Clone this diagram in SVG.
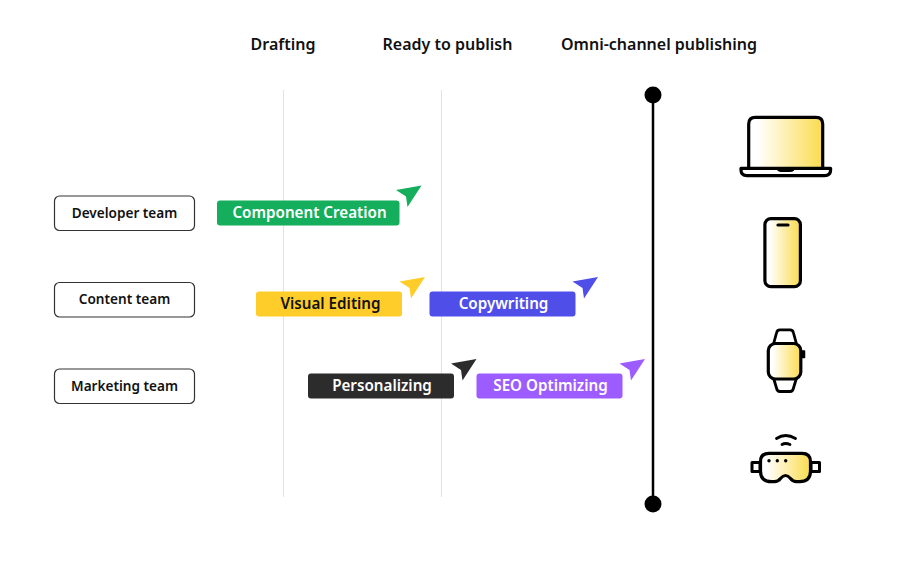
<svg xmlns="http://www.w3.org/2000/svg" width="918" height="568" viewBox="0 0 918 568">
<style>
text{font-family:"Noto Sans","Open Sans",sans-serif;font-weight:600;text-anchor:middle}
.h{font-size:16px;fill:#111}
.t{font-size:13.600px;fill:#111}
.b{font-size:15.200px;fill:#fff}
.team{fill:#fff;stroke:#333;stroke-width:1.2}
.grid{stroke:#e2e2e2;stroke-width:1}
.ic{stroke:#000;stroke-width:3.200;stroke-linejoin:round;stroke-linecap:round}
</style>
<defs>
<linearGradient id="g"><stop offset="0.12" stop-color="#fff"/><stop offset="1" stop-color="#fbdb4d"/></linearGradient>
<path id="cur" d="M0 0L-25.500 4.500L-15.500 11L-14 21.500Z"/>
</defs>
<rect width="918" height="568" fill="#fff"/>
<g id="headers">
<text class="h" x="283" y="50">Drafting</text>
<text class="h" x="447.500" y="50">Ready to publish</text>
<text class="h" x="659" y="50">Omni-channel publishing</text>
</g>
<g id="connectors">
<line class="grid" x1="283.500" y1="90" x2="283.500" y2="497"/>
<line class="grid" x1="441.500" y1="90" x2="441.500" y2="497"/>
<line x1="653" y1="95" x2="653" y2="504" stroke="#000" stroke-width="2.500"/>
<circle cx="653" cy="95" r="8.500"/>
<circle cx="653" cy="504" r="8.500"/>
</g>
<g id="team-developer"><rect class="team" x="54.500" y="196" width="140" height="34.500" rx="5"/><text class="t" x="124.500" y="218">Developer team</text></g>
<g id="team-content"><rect class="team" x="54.500" y="282.500" width="140" height="34.500" rx="5"/><text class="t" x="124.500" y="304">Content team</text></g>
<g id="team-marketing"><rect class="team" x="54.500" y="369" width="140" height="34.500" rx="5"/><text class="t" x="124.500" y="391">Marketing team</text></g>
<g id="component-creation"><rect x="217" y="200.500" width="182.500" height="25" rx="3" fill="#14ae5c"/><text class="b" x="309.500" y="218">Component Creation</text><use href="#cur" x="421.500" y="185.500" fill="#14ae5c"/></g>
<g id="visual-editing"><rect x="256" y="291.500" width="146" height="25" rx="3" fill="#ffcd29"/><text class="b" style="fill:#111" x="330.500" y="309">Visual Editing</text><use href="#cur" x="425" y="277" fill="#ffcd29"/></g>
<g id="copywriting"><rect x="429.500" y="291.500" width="146" height="25" rx="3" fill="#4f4ee8"/><text class="b" x="503.500" y="309">Copywriting</text><use href="#cur" x="598" y="277" fill="#4f4ee8"/></g>
<g id="personalizing"><rect x="308" y="373.500" width="146" height="25" rx="3" fill="#2c2c2c"/><text class="b" x="382" y="391">Personalizing</text><use href="#cur" x="476.500" y="359" fill="#2c2c2c"/></g>
<g id="seo-optimizing"><rect x="476.500" y="373.500" width="146" height="25" rx="3" fill="#9d5cff"/><text class="b" x="550.500" y="391">SEO Optimizing</text><use href="#cur" x="645" y="359" fill="#9d5cff"/></g>
<g id="laptop" class="ic">
<path d="M748.700 169V124Q748.700 117.300 755.400 117.300H816Q822.700 117.300 822.700 124V169Z" fill="url(#g)"/>
<path d="M741 168.400H830.600V170Q830.600 175.700 824.600 175.700H747Q741 175.700 741 170Z" fill="#fff"/>
<path d="M776.500 169Q778 171.500 781 171.500H790.500Q793.500 171.500 795 169Z" fill="#000" stroke-width="1"/>
</g>
<g id="phone" class="ic">
<rect x="764.900" y="218.600" width="35.500" height="68.100" rx="6" fill="url(#g)"/>
<line x1="778" y1="225" x2="788" y2="225"/>
</g>
<g id="watch" class="ic">
<path d="M773.500 344L776.500 333Q777 329.800 780 329.800H790Q793 329.800 793.500 333L796.500 344M773.500 378L776.500 388Q777 391.500 780 391.500H790Q793 391.500 793.500 388L796.500 378" fill="#fff" stroke-width="2.800"/>
<rect x="768.300" y="343.500" width="32.500" height="35.500" rx="7" fill="url(#g)"/>
<rect x="802.500" y="351" width="2" height="6.500" stroke-width="1.500"/>
</g>
<g id="vr" class="ic">
<rect x="752" y="462.500" width="8" height="9" fill="#fff" stroke-width="3"/>
<rect x="811" y="462.500" width="8.500" height="9" fill="#fff" stroke-width="3"/>
<path d="M769 453.300H802Q810.500 453.300 810.500 461.500V471Q810.500 481.700 799.500 481.700H796.500Q793 481.700 790.500 478.500Q788 475.500 785.500 475.500Q783 475.500 780.500 478.500Q778 481.700 774.500 481.700H771.500Q760.500 481.700 760.500 471V461.500Q760.500 453.300 769 453.300Z" fill="url(#g)"/>
<path d="M776.500 438.500Q785.500 432.500 795.500 438.500M782 444.500Q785.500 442.500 790 444.500" fill="none" stroke-width="2.800"/>
<g stroke="none"><circle cx="769" cy="460.700" r="1.700"/><circle cx="777.300" cy="460.700" r="1.700"/><circle cx="785.700" cy="460.700" r="1.700"/></g>
</g>
</svg>
